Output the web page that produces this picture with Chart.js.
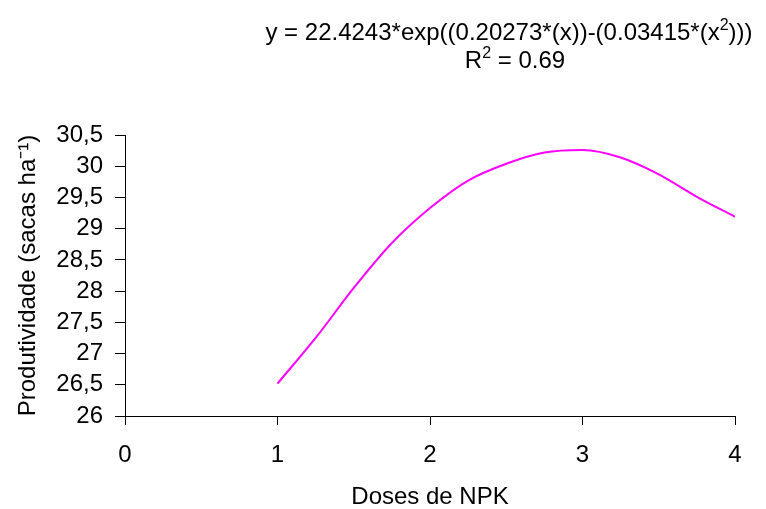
<!DOCTYPE html>
<html>
<head>
<meta charset="utf-8">
<script src="https://cdn.jsdelivr.net/npm/chart.js@4.4.1/dist/chart.umd.min.js"></script>
<style>
    html, body { margin: 0; padding: 0; background: #fff; }
    #wrap { width: 766px; height: 509px; position: relative; }
</style>
</head>
<body>
<div id="wrap"><canvas id="chart"></canvas></div>
<script>
// Data
const doses = [1.0, 1.25, 1.5, 1.75, 2.0, 2.25, 2.5, 2.75, 3.0, 3.25, 3.5, 3.75, 4.0];
const produtividade = [26.52, 27.25, 28.05, 28.77, 29.33, 29.77, 30.04, 30.22, 30.26, 30.14, 29.87, 29.51, 29.19];
const yTicks = [26, 26.5, 27, 27.5, 28, 28.5, 29, 29.5, 30, 30.5];
const xTicks = [0, 1, 2, 3, 4];

const FONT = 'Liberation Sans, Arial, sans-serif';
const SIZE = 24;

// Draw a line of text made of [text, isSuperscript] parts, centred at cx
function drawRich(ctx, parts, cx, baseline, size) {
    const supSize = Math.round(size * 0.65);
    let total = 0;
    parts.forEach(([t, sup]) => {
        ctx.font = (sup ? supSize : size) + 'px ' + FONT;
        total += ctx.measureText(t).width;
    });
    let x = cx - total / 2;
    ctx.textAlign = 'left';
    ctx.textBaseline = 'alphabetic';
    parts.forEach(([t, sup]) => {
        ctx.font = (sup ? supSize : size) + 'px ' + FONT;
        ctx.fillText(t, x, sup ? baseline - size * 0.42 : baseline);
        x += ctx.measureText(t).width;
    });
}

const equationPlugin = {
    id: 'equation',
    afterDraw(chart) {
        const ctx = chart.ctx;
        ctx.save();
        ctx.fillStyle = '#000';
        drawRich(ctx, [['y = 22.4243*exp((0.20273*(x))-(0.03415*(x', false], ['2', true], [')))', false]], 509, 40, SIZE);
        drawRich(ctx, [['R', false], ['2', true], [' = 0.69', false]], 515, 68, SIZE);
        ctx.restore();
    }
};

const ctx = document.getElementById('chart').getContext('2d');
new Chart(ctx, {
    type: 'line',
    data: {
        datasets: [{
            data: doses.map((d, i) => ({ x: d, y: produtividade[i] })),
            borderColor: '#ff00ff',
            borderWidth: 2,
            pointRadius: 0,
            tension: 0.4,
            cubicInterpolationMode: 'monotone',
            fill: false
        }]
    },
    options: {
        responsive: true,
        maintainAspectRatio: false,
        animation: false,
        layout: { padding: { top: 135, right: 31, left: 0, bottom: 0 } },
        plugins: {
            legend: { display: false },
            tooltip: { enabled: false }
        },
        scales: {
            x: {
                type: 'linear',
                min: 0,
                max: 4,
                afterBuildTicks: s => { s.ticks = xTicks.map(v => ({ value: v })); },
                afterFit: s => { s.height = 93; },
                ticks: { color: '#000', font: { family: FONT, size: SIZE }, padding: 16, maxRotation: 0, autoSkip: false },
                grid: { drawOnChartArea: false, drawTicks: true, tickLength: 9, color: '#000' },
                border: { color: '#000', width: 1 },
                title: {
                    display: true,
                    text: 'Doses de NPK',
                    color: '#000',
                    font: { family: FONT, size: SIZE, lineHeight: 1 },
                    padding: { top: 4, bottom: 0 }
                }
            },
            y: {
                min: 26,
                max: 30.5,
                afterBuildTicks: s => { s.ticks = yTicks.map(v => ({ value: v })); },
                afterFit: s => { s.width = 125; },
                ticks: {
                    color: '#000',
                    font: { family: FONT, size: SIZE, lineHeight: 1 },
                    padding: 12,
                    autoSkip: false,
                    callback: v => String(v).replace('.', ',')
                },
                grid: { drawOnChartArea: false, drawTicks: true, tickLength: 10, color: '#000' },
                border: { color: '#000', width: 1 },
                title: {
                    display: true,
                    text: 'Produtividade (sacas ha\u207B\u00B9)',
                    color: '#000',
                    font: { family: FONT, size: SIZE },
                    padding: { top: 14, bottom: 0 }
                }
            }
        }
    },
    plugins: [equationPlugin]
});
</script>
</body>
</html>
